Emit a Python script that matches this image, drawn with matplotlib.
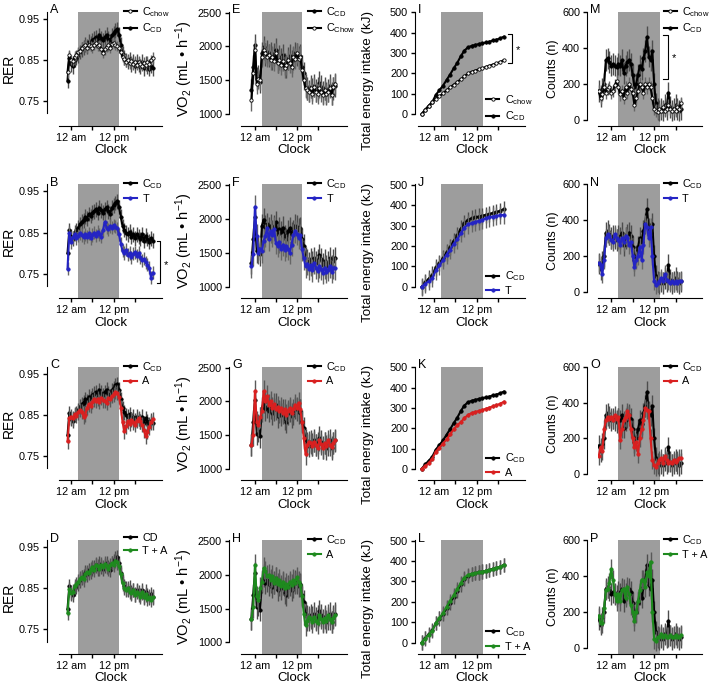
import matplotlib
matplotlib.use('Agg')
import matplotlib.pyplot as plt
import numpy as np

plt.rcParams['font.family'] = ['Liberation Sans', 'DejaVu Sans']
plt.rcParams['mathtext.fontset'] = 'custom'
plt.rcParams['mathtext.rm'] = 'Liberation Sans'
plt.rcParams['mathtext.it'] = 'Liberation Sans:italic'

# sample times, hours from midnight
t_rer = np.arange(-1.0, 23.01, 0.5)    # RER and VO2
t_kj = np.arange(-3.5, 19.51, 1.0)     # cumulative intake
t_cnt = np.arange(-3.5, 19.51, 0.5)    # activity counts

# RER
rer_cd = [0.800, 0.855, 0.840, 0.835, 0.850, 0.855, 0.862, 0.870, 0.876, 0.880,
          0.888, 0.884, 0.895, 0.890, 0.898, 0.902, 0.906, 0.898, 0.910, 0.904,
          0.898, 0.906, 0.912, 0.902, 0.896, 0.910, 0.916, 0.922, 0.926, 0.912,
          0.888, 0.866, 0.856, 0.850, 0.846, 0.852, 0.840, 0.846, 0.836, 0.846,
          0.840, 0.834, 0.846, 0.830, 0.842, 0.834, 0.828, 0.836, 0.830]
rer_chow = [0.820, 0.862, 0.850, 0.848, 0.858, 0.862, 0.870, 0.872, 0.880, 0.884,
            0.886, 0.880, 0.888, 0.884, 0.880, 0.888, 0.892, 0.884, 0.886, 0.878,
            0.868, 0.876, 0.882, 0.886, 0.880, 0.890, 0.892, 0.888, 0.884, 0.880,
            0.870, 0.858, 0.852, 0.846, 0.850, 0.842, 0.848, 0.840, 0.846, 0.838,
            0.846, 0.840, 0.836, 0.844, 0.838, 0.846, 0.840, 0.850, 0.856]
rer_t = [0.762, 0.850, 0.826, 0.838, 0.846, 0.836, 0.842, 0.848, 0.844, 0.838,
         0.846, 0.840, 0.848, 0.836, 0.844, 0.850, 0.842, 0.852, 0.846, 0.840,
         0.856, 0.876, 0.862, 0.858, 0.866, 0.862, 0.868, 0.864, 0.860, 0.846,
         0.822, 0.806, 0.800, 0.808, 0.796, 0.800, 0.790, 0.798, 0.802, 0.794,
         0.800, 0.790, 0.782, 0.786, 0.778, 0.772, 0.764, 0.740, 0.752]
rer_a = [0.785, 0.843, 0.846, 0.842, 0.852, 0.848, 0.856, 0.862, 0.858, 0.846,
         0.850, 0.868, 0.876, 0.872, 0.882, 0.888, 0.884, 0.890, 0.882, 0.892,
         0.886, 0.884, 0.880, 0.892, 0.888, 0.896, 0.900, 0.906, 0.904, 0.894,
         0.868, 0.832, 0.810, 0.822, 0.834, 0.828, 0.838, 0.832, 0.826, 0.836,
         0.842, 0.834, 0.826, 0.812, 0.798, 0.808, 0.820, 0.832, 0.840]
rer_ta = [0.790, 0.848, 0.838, 0.842, 0.856, 0.860, 0.866, 0.874, 0.878, 0.872,
          0.884, 0.890, 0.888, 0.896, 0.902, 0.896, 0.908, 0.904, 0.898, 0.908,
          0.902, 0.910, 0.904, 0.898, 0.906, 0.912, 0.908, 0.918, 0.914, 0.904,
          0.884, 0.862, 0.852, 0.846, 0.850, 0.842, 0.838, 0.846, 0.834, 0.842,
          0.836, 0.830, 0.840, 0.828, 0.836, 0.824, 0.830, 0.822, 0.828]

# VO2
vo2_cd = [1350, 1700, 2020, 1520, 1560, 1480, 1900, 1990, 1880, 1920,
          1860, 1900, 1820, 1880, 1950, 1780, 1850, 1800, 1870, 1740,
          1700, 1820, 1860, 1780, 1820, 1900, 1880, 1840, 1860, 1700,
          1600, 1420, 1380, 1340, 1400, 1360, 1420, 1350, 1380, 1460,
          1400, 1320, 1380, 1300, 1350, 1420, 1300, 1380, 1420]
vo2_chow = [1200, 1600, 1950, 1450, 1520, 1500, 1850, 1950, 1900, 1850,
            1880, 1800, 1850, 1780, 1900, 1750, 1800, 1720, 1780, 1680,
            1720, 1800, 1760, 1700, 1850, 1820, 1900, 1820, 1850, 1650,
            1500, 1380, 1350, 1320, 1380, 1300, 1400, 1330, 1300, 1380,
            1320, 1280, 1350, 1300, 1320, 1380, 1280, 1400, 1450]
vo2_t = [1300, 1480, 2180, 1750, 1500, 1560, 1520, 1680, 1750, 1860,
         1700, 1820, 1760, 1850, 1650, 1600, 1660, 1560, 1620, 1540,
         1600, 1560, 1500, 1620, 1760, 1820, 1780, 1720, 1760, 1550,
         1420, 1300, 1340, 1260, 1320, 1240, 1350, 1280, 1230, 1300,
         1260, 1200, 1280, 1220, 1250, 1300, 1220, 1280, 1270]
vo2_a = [1350, 1500, 2150, 1700, 1650, 1760, 1850, 2150, 2000, 2080,
         1950, 2000, 1900, 1960, 1880, 1920, 1850, 1900, 1820, 1880,
         1800, 1860, 1900, 1820, 1880, 1950, 1900, 1980, 1880, 1700,
         1450, 1220, 1350, 1400, 1380, 1340, 1400, 1350, 1300, 1420,
         1360, 1300, 1380, 1340, 1420, 1350, 1320, 1380, 1420]
vo2_ta = [1340, 1520, 2150, 1680, 1620, 1800, 1900, 2100, 2050, 1980,
          2000, 1920, 1980, 1880, 1950, 1860, 1920, 1840, 1900, 1800,
          1860, 1820, 1900, 1850, 1920, 1880, 1960, 1900, 1850, 1680,
          1420, 1250, 1320, 1380, 1350, 1300, 1380, 1320, 1280, 1400,
          1350, 1300, 1360, 1320, 1400, 1340, 1300, 1360, 1400]

# total energy intake (kJ)
kj_cd = [0, 22, 40, 60, 95, 118, 140, 168, 195, 225, 252, 285, 312, 328, 335, 340, 344, 348, 352, 356, 362, 366, 372, 380]
kj_chow = [0, 22, 42, 60, 75, 88, 102, 118, 132, 145, 158, 172, 186, 200, 208, 214, 220, 226, 232, 238, 244, 250, 256, 265]
kj_t = [0, 15, 28, 42, 80, 105, 130, 158, 182, 210, 232, 262, 290, 305, 312, 318, 322, 328, 335, 340, 344, 347, 350, 352]
kj_a = [0, 14, 28, 50, 85, 105, 125, 145, 170, 195, 215, 230, 250, 265, 275, 280, 285, 290, 296, 302, 308, 314, 320, 330]
kj_ta = [0, 20, 38, 58, 95, 120, 145, 175, 205, 232, 262, 292, 318, 332, 338, 340, 344, 348, 352, 356, 360, 366, 372, 380]

# activity counts
cnt_cd = [160, 130, 170, 200, 330, 340, 320, 300, 310, 300,
          290, 310, 300, 330, 260, 300, 320, 330, 310, 250,
          180, 200, 250, 300, 280, 340, 380, 460, 350, 330,
          380, 200, 90, 60, 50, 60, 50, 80, 60, 150,
          70, 50, 60, 80, 60, 50, 60]
cnt_chow = [160, 120, 140, 180, 150, 170, 180, 150, 160, 190,
            215, 180, 140, 160, 120, 180, 150, 200, 170, 150,
            80, 120, 160, 200, 180, 150, 200, 180, 200, 180,
            120, 60, 50, 40, 60, 50, 70, 50, 60, 80,
            60, 50, 60, 50, 70, 60, 90]
cnt_t = [160, 150, 100, 180, 300, 320, 310, 290, 280, 320,
         300, 290, 260, 300, 280, 310, 300, 260, 280, 200,
         140, 180, 200, 250, 180, 260, 380, 360, 300, 360,
         200, 60, 40, 50, 60, 80, 60, 100, 70, 60,
         50, 60, 50, 60, 50, 60, 60]
cnt_a = [100, 150, 130, 250, 300, 320, 310, 320, 300, 330,
         310, 320, 190, 250, 300, 320, 350, 330, 250, 200,
         150, 180, 115, 200, 250, 300, 370, 360, 350, 200,
         80, 50, 40, 60, 80, 90, 60, 100, 80, 60,
         70, 60, 80, 70, 80, 90, 90]
cnt_ta = [180, 140, 140, 220, 320, 330, 360, 440, 380, 300,
          260, 300, 260, 320, 330, 280, 340, 300, 240, 200,
          150, 200, 260, 320, 380, 380, 340, 420, 400, 480,
          200, 50, 40, 60, 60, 80, 60, 70, 60, 60,
          70, 60, 60, 70, 60, 60, 70]

# SEM (one value per series)
sem = {'A': (0.018, 0.013), 'B': (0.018, 0.016), 'C': (0.018, 0.018), 'D': (0.018, 0.018),
       'E': (170, 150), 'F': (170, 170), 'G': (170, 160), 'H': (170, 160),
       'I': (8, 8), 'J': (40, 45), 'K': (8, 10), 'L': (35, 35),
       'M': (60, 35), 'N': (60, 50), 'O': (60, 50), 'P': (60, 55)}

CD = r'C$_\mathrm{CD}$'
blue, red, green = '#2424c4', '#d92020', '#1e8a1e'
styles = {'cd': ('k', 'k', '0.3'), 'chow': ('k', 'w', '0.4'),
          't': (blue, blue, '0.4'), 'a': (red, red, '0.35'), 'ta': (green, green, '0.35')}

# column setup
cols = [
    dict(x=(59, 162), xlim=(-3.4, 25.6), ylim=(0.69, 0.968), yb=(0.72, 0.968),
         yt=[0.75, 0.85, 0.95], yl=['0.75', '0.85', '0.95'], ylab='RER', off=12, lfs=10),
    dict(x=(241, 347), xlim=(-4.0, 26.4), ylim=(826, 2515), yb=(1000, 2515),
         yt=[1000, 1500, 2000, 2500], yl=None, ylab=r'VO$_2$ (mL • h$^{-1}$)', off=12, lfs=10.5),
    dict(x=(418, 525), xlim=(-4.5, 25.5), ylim=(-56, 503), yb=(0, 503),
         yt=[0, 100, 200, 300, 400, 500], yl=None, ylab='Total energy intake (kJ)', off=3, lfs=9.6),
    dict(x=(598, 702), xlim=(-3.7, 25.4), ylim=(-34, 600), yb=(0, 600),
         yt=[0, 200, 400, 600], yl=None, ylab='Counts (n)', off=11, lfs=9),
]
rows = [(11.7, 125.7), (184, 298.3), (366.7, 480.3), (540, 654)]

# panel: letter, col, row, series drawn (key, t, y, label), legend order, legend location
panels = [
    ('A', 0, 0, [('cd', t_rer, rer_cd, CD), ('chow', t_rer, rer_chow, r'C$_\mathrm{chow}$')], [1, 0], 'top'),
    ('B', 0, 1, [('cd', t_rer, rer_cd, CD), ('t', t_rer, rer_t, 'T')], [0, 1], 'top'),
    ('C', 0, 2, [('cd', t_rer, rer_cd, CD), ('a', t_rer, rer_a, 'A')], [0, 1], 'top'),
    ('D', 0, 3, [('cd', t_rer, rer_cd, 'CD'), ('ta', t_rer, rer_ta, 'T + A')], [0, 1], 'top'),
    ('E', 1, 0, [('cd', t_rer, vo2_cd, CD), ('chow', t_rer, vo2_chow, r'C$_\mathrm{Chow}$')], [0, 1], 'top'),
    ('F', 1, 1, [('cd', t_rer, vo2_cd, CD), ('t', t_rer, vo2_t, 'T')], [0, 1], 'top'),
    ('G', 1, 2, [('cd', t_rer, vo2_cd, CD), ('a', t_rer, vo2_a, 'A')], [0, 1], 'top'),
    ('H', 1, 3, [('cd', t_rer, vo2_cd, CD), ('ta', t_rer, vo2_ta, 'A')], [0, 1], 'top'),
    ('I', 2, 0, [('cd', t_kj, kj_cd, CD), ('chow', t_kj, kj_chow, r'C$_\mathrm{chow}$')], [1, 0], 'bottom'),
    ('J', 2, 1, [('cd', t_kj, kj_cd, CD), ('t', t_kj, kj_t, 'T')], [0, 1], 'bottom'),
    ('K', 2, 2, [('cd', t_kj, kj_cd, CD), ('a', t_kj, kj_a, 'A')], [0, 1], 'bottom'),
    ('L', 2, 3, [('cd', t_kj, kj_cd, CD), ('ta', t_kj, kj_ta, 'T + A')], [0, 1], 'bottom'),
    ('M', 3, 0, [('cd', t_cnt, cnt_cd, CD), ('chow', t_cnt, cnt_chow, r'C$_\mathrm{chow}$')], [1, 0], 'top'),
    ('N', 3, 1, [('cd', t_cnt, cnt_cd, CD), ('t', t_cnt, cnt_t, 'T')], [0, 1], 'top'),
    ('O', 3, 2, [('cd', t_cnt, cnt_cd, CD), ('a', t_cnt, cnt_a, 'A')], [0, 1], 'top'),
    ('P', 3, 3, [('cd', t_cnt, cnt_cd, CD), ('ta', t_cnt, cnt_ta, 'T + A')], [0, 1], 'top'),
]

W, H = 709, 688
fig = plt.figure(figsize=(W / 100, H / 100), dpi=100)

axes = {}
for letter, ci, ri, series, order, legloc in panels:
    c = cols[ci]
    x0, x1 = c['x']
    y0, y1 = rows[ri]
    ax = fig.add_axes([x0 / W, 1 - y1 / H, (x1 - x0) / W, (y1 - y0) / H])
    axes[letter] = ax

    ax.axvspan(1.9, 13.6, color='#9d9d9d', lw=0, zorder=0)
    handles = []
    for k, (key, t, y, lab) in enumerate(series):
        col, fc, ec = styles[key]
        ax.errorbar(t, y, yerr=sem[letter][k], fmt='none', ecolor=ec, elinewidth=1.0,
                    capsize=0, zorder=2 + k)
        ln, = ax.plot(t, y, '-o', color=col, mfc=fc, mec=col, ms=2.4, mew=0.6, lw=1.5,
                      zorder=3 + k, label=lab)
        handles.append(ln)

    ax.set_xlim(*c['xlim'])
    ax.set_ylim(*c['ylim'])
    ax.spines['top'].set_visible(False)
    ax.spines['right'].set_visible(False)
    ax.spines['left'].set_position(('outward', c['off'] * 0.72))
    ax.spines['left'].set_bounds(*c['yb'])
    ax.set_yticks(c['yt'])
    if c['yl']:
        ax.set_yticklabels(c['yl'])
    ax.set_xticks([0, 6, 12, 18])
    ax.set_xticklabels(['12 am', '', '12 pm', ''])
    ax.tick_params(direction='out', length=3, width=1, labelsize=7.8, pad=2)
    ax.set_xlabel('Clock', fontsize=9.5, labelpad=1)
    ax.set_ylabel(c['ylab'], fontsize=c['lfs'], labelpad=2)
    if ci == 2:
        # long label sits lower than the axes centre
        ax.yaxis.set_label_coords(-0.41, 0.40)
    ax.annotate(letter, xy=(0, 1), xycoords='axes fraction',
                xytext=((-c['off'] + 3) * 0.72, -1.2), textcoords='offset points',
                ha='left', va='baseline', fontsize=9)

    hs = [handles[i] for i in order]
    if legloc == 'top':
        ax.legend(handles=hs, loc='upper left', bbox_to_anchor=(0.63, 1.06), frameon=False,
                  fontsize=7.8, handlelength=1.2, handletextpad=0.5, labelspacing=0.25,
                  borderpad=0, borderaxespad=0, numpoints=1)
    else:
        ax.legend(handles=hs, loc='lower left', bbox_to_anchor=(0.64, 0.02), frameon=False,
                  fontsize=7.8, handlelength=1.2, handletextpad=0.5, labelspacing=0.25,
                  borderpad=0, borderaxespad=0, numpoints=1)

# significance brackets
ax = axes['B']
ax.plot([24.2, 25, 25, 24.2], [0.829, 0.829, 0.728, 0.728], color='k', lw=0.8, clip_on=False)
ax.text(26.2, 0.772, '*', fontsize=8, ha='left', va='center')
ax = axes['I']
ax.plot([20.8, 21.8, 21.8, 20.8], [392, 392, 250, 250], color='k', lw=0.8, clip_on=False)
ax.text(22.8, 315, '*', fontsize=8, ha='left', va='center')
ax = axes['M']
ax.plot([14.6, 16.0, 16.0, 14.6], [473, 473, 223, 223], color='k', lw=0.8, clip_on=False)
ax.text(17.0, 340, '*', fontsize=8, ha='left', va='center')

fig.savefig('out.png', dpi=100)
